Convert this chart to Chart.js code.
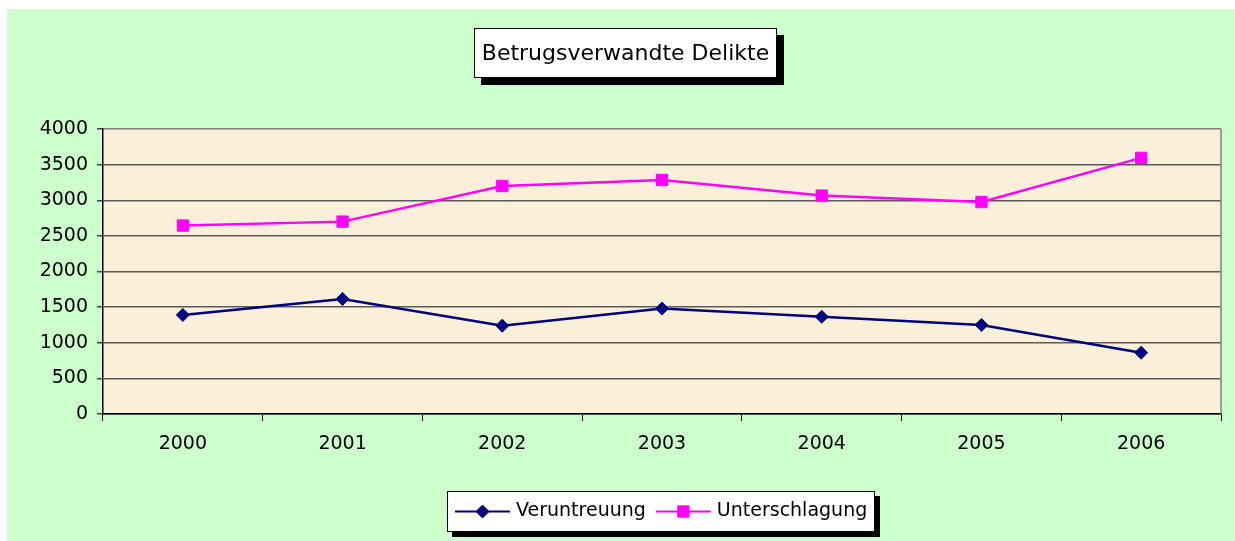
<!DOCTYPE html>
<html>
<head>
<meta charset="utf-8">
<title>Betrugsverwandte Delikte</title>
<script src="https://cdn.jsdelivr.net/npm/chart.js@4.4.1/dist/chart.umd.min.js"></script>
<style>
  html, body { margin: 0; padding: 0; background: #fff; }
  #wrap { width: 1235px; height: 541px; }
</style>
</head>
<body>
<div id="wrap"><canvas id="myChart" width="1235" height="541"></canvas></div>
<script>
// data
const years = ['2000', '2001', '2002', '2003', '2004', '2005', '2006'];
const veruntreuung = [1390, 1615, 1240, 1480, 1365, 1250, 860];
const unterschlagung = [2645, 2700, 3200, 3285, 3065, 2975, 3595];
const yTicks = [0, 500, 1000, 1500, 2000, 2500, 3000, 3500, 4000];
const chartTitle = 'Betrugsverwandte Delikte';

const FONT = '"DejaVu Sans", "Liberation Sans", Arial, sans-serif';

// green area, beige plot, right border
const backgroundPlugin = {
  id: 'background',
  beforeDraw(chart) {
    const ctx = chart.ctx;
    const a = chart.chartArea;
    ctx.save();
    ctx.fillStyle = '#ffffff';
    ctx.fillRect(0, 0, chart.width, chart.height);
    ctx.fillStyle = '#ccffcc';
    ctx.fillRect(7, 9, chart.width - 7, chart.height - 9);
    ctx.fillStyle = '#faefd9';
    ctx.fillRect(a.left, a.top, a.right - a.left, a.bottom - a.top);
    ctx.restore();
  },
  beforeDatasetsDraw(chart) {
    const ctx = chart.ctx;
    const a = chart.chartArea;
    ctx.save();
    ctx.strokeStyle = '#808080';
    ctx.lineWidth = 1.5;
    ctx.beginPath();
    ctx.moveTo(a.right, a.top);
    ctx.lineTo(a.right, a.bottom);
    ctx.stroke();
    ctx.restore();
  }
};

function marker(ctx, style, x, y, r, color) {
  ctx.fillStyle = color;
  ctx.strokeStyle = color;
  ctx.lineWidth = 1;
  ctx.beginPath();
  if (style === 'rectRot') {
    ctx.moveTo(x - r, y);
    ctx.lineTo(x, y - r);
    ctx.lineTo(x + r, y);
    ctx.lineTo(x, y + r);
    ctx.closePath();
  } else {
    const s = r * Math.SQRT1_2;
    ctx.rect(x - s, y - s, 2 * s, 2 * s);
  }
  ctx.fill();
  ctx.stroke();
}

function shadowBox(ctx, x, y, w, h, off) {
  ctx.fillStyle = '#000';
  ctx.fillRect(x + off, y + off, w, h);
  ctx.fillStyle = '#fff';
  ctx.fillRect(x, y, w, h);
  ctx.strokeStyle = '#000';
  ctx.lineWidth = 1;
  ctx.strokeRect(x + 0.5, y + 0.5, w - 1, h - 1);
}

// title box and legend box with shadows
const boxesPlugin = {
  id: 'boxes',
  afterDraw(chart) {
    const ctx = chart.ctx;
    ctx.save();

    // title
    shadowBox(ctx, 474, 28, 303, 50, 7);
    ctx.fillStyle = '#000';
    ctx.font = '22px ' + FONT;
    ctx.textAlign = 'center';
    ctx.textBaseline = 'middle';
    ctx.fillText(chartTitle, 625.5, 54);

    // legend
    ctx.font = '19px ' + FONT;
    ctx.textAlign = 'left';
    const lineLen = 55, gap = 6, itemGap = 10, padX = 8;
    const items = chart.data.datasets.map(ds => ({ ds: ds, w: ctx.measureText(ds.label).width }));
    let total = padX * 2;
    items.forEach((it, i) => { total += lineLen + gap + it.w + (i ? itemGap : 0); });
    const left = Math.round(661 - total / 2), top = 491, h = 41;
    shadowBox(ctx, left, top, Math.round(total), h, 5);
    let x = left + padX;
    const cy = top + h / 2;
    items.forEach(it => {
      ctx.strokeStyle = it.ds.borderColor;
      ctx.lineWidth = 2;
      ctx.beginPath();
      ctx.moveTo(x, cy);
      ctx.lineTo(x + lineLen, cy);
      ctx.stroke();
      marker(ctx, it.ds.pointStyle, x + lineLen / 2, cy, it.ds.pointRadius, it.ds.borderColor);
      ctx.fillStyle = '#000';
      ctx.fillText(it.ds.label, x + lineLen + gap, cy);
      x += lineLen + gap + it.w + itemGap;
    });
    ctx.restore();
  }
};

const ctx = document.getElementById('myChart').getContext('2d');
const myChart = new Chart(ctx, {
  type: 'line',
  data: {
    labels: years,
    datasets: [{
      label: 'Veruntreuung',
      data: veruntreuung,
      borderColor: '#000080',
      backgroundColor: '#000080',
      borderWidth: 2.5,
      pointStyle: 'rectRot',
      pointRadius: 6.5,
      pointBorderWidth: 1,
      tension: 0
    }, {
      label: 'Unterschlagung',
      data: unterschlagung,
      borderColor: '#ff00ff',
      backgroundColor: '#ff00ff',
      borderWidth: 2.5,
      pointStyle: 'rect',
      pointRadius: 8,
      pointBorderWidth: 1,
      tension: 0
    }]
  },
  options: {
    responsive: false,
    animation: false,
    layout: {
      padding: { left: 0, right: 14, top: 129, bottom: 77 }
    },
    scales: {
      x: {
        offset: true,
        grid: {
          offset: true,
          drawOnChartArea: false,
          drawTicks: true,
          tickLength: 7,
          color: '#000',
          lineWidth: 1
        },
        border: { color: '#000', width: 1.5 },
        ticks: {
          color: '#000',
          padding: 12,
          font: { family: FONT, size: 19 },
          maxRotation: 0
        },
        afterFit(scale) { scale.height = 50; }
      },
      y: {
        min: 0,
        max: 4000,
        afterBuildTicks(scale) { scale.ticks = yTicks.map(v => ({ value: v })); },
        grid: {
          color: ctx => ctx.tick && ctx.tick.value === 4000 ? '#808080' : '#5a5a5a',
          lineWidth: 1.5,
          drawTicks: true,
          tickLength: 6,
          tickColor: '#404040'
        },
        border: { color: '#000', width: 1.5 },
        ticks: {
          color: '#000',
          padding: 9,
          font: { family: FONT, size: 19 },
          callback: v => String(v)
        },
        afterFit(scale) { scale.width = 103; }
      }
    },
    plugins: {
      legend: { display: false },
      title: { display: false },
      tooltip: { enabled: false }
    }
  },
  plugins: [backgroundPlugin, boxesPlugin]
});
</script>
</body>
</html>
